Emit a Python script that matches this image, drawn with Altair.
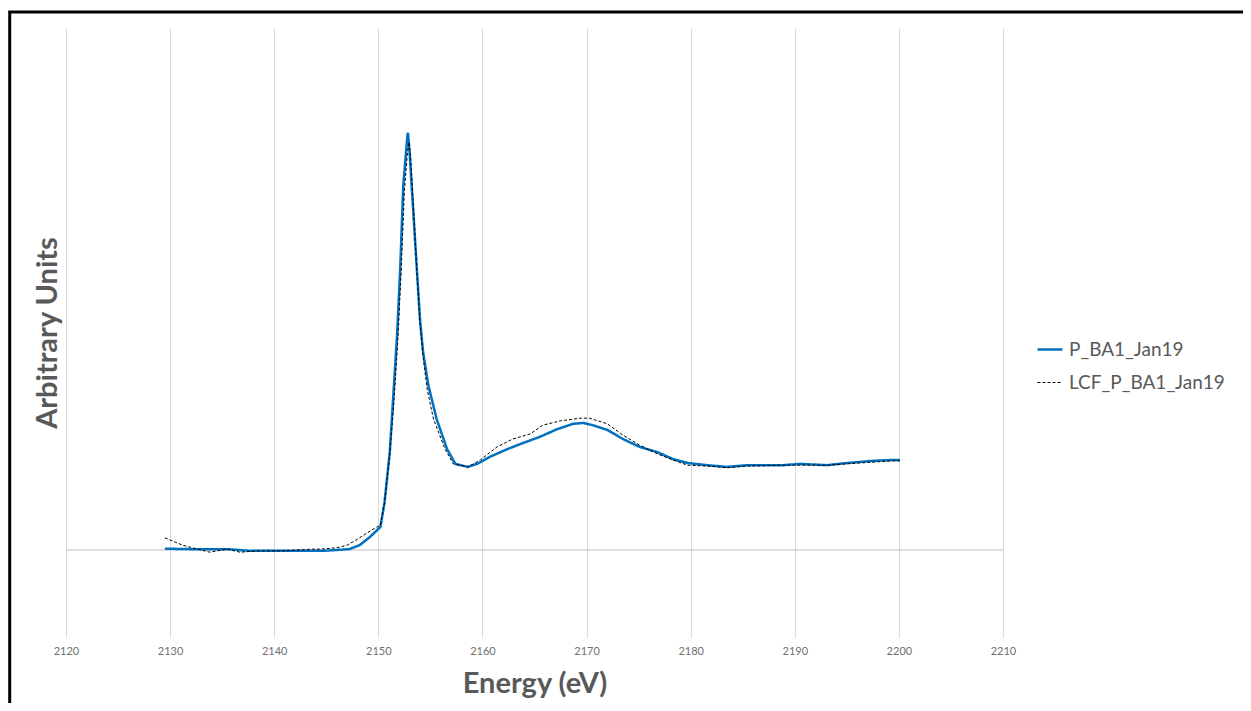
import altair as alt
import pandas as pd

series_names = ["P_BA1_Jan19", "LCF_P_BA1_Jan19"]
x_ticks = [2120, 2130, 2140, 2150, 2160, 2170, 2180, 2190, 2200, 2210]

energy_sample = [2129.5, 2131.9, 2135.5, 2137.7, 2139.9, 2142.5, 2144.7, 2147.2, 2148.2, 2149.2,
                 2150.2, 2150.6, 2151.1, 2151.4, 2151.8, 2152.1, 2152.4, 2152.8, 2152.85, 2153.0,
                 2153.3, 2153.7, 2154.0, 2154.3, 2154.8, 2155.6, 2156.6, 2157.4, 2158.6, 2159.5,
                 2160.7, 2162.4, 2163.9, 2165.5, 2167.2, 2168.7, 2169.7, 2170.6, 2172.0, 2173.5,
                 2175.1, 2176.8, 2178.3, 2179.7, 2181.6, 2183.5, 2185.4, 2188.9, 2190.5, 2193.1,
                 2195.0, 2197.5, 2199.4, 2200.1]
au_sample = [0.003, 0.002, 0.002, -0.002, -0.002, -0.002, -0.002, 0.002, 0.011, 0.030,
             0.053, 0.110, 0.225, 0.340, 0.494, 0.646, 0.839, 0.954, 0.959, 0.915,
             0.800, 0.646, 0.531, 0.455, 0.379, 0.301, 0.232, 0.198, 0.191, 0.198,
             0.214, 0.232, 0.246, 0.260, 0.278, 0.290, 0.292, 0.287, 0.276, 0.255,
             0.237, 0.225, 0.209, 0.200, 0.195, 0.191, 0.195, 0.195, 0.198, 0.195,
             0.200, 0.205, 0.207, 0.207]

energy_lcf = [2129.5, 2130.5, 2131.2, 2133.8, 2135.5, 2136.7, 2138.6, 2140.8, 2143.7, 2144.4,
              2146.0, 2147.0, 2148.0, 2149.5, 2150.2, 2150.6, 2151.1, 2151.5, 2151.9, 2152.2,
              2152.5, 2152.8, 2152.95, 2153.1, 2153.4, 2153.7, 2154.0, 2154.3, 2154.7, 2155.3,
              2156.4, 2157.2, 2158.6, 2159.8, 2161.4, 2162.9, 2164.6, 2165.8, 2167.5, 2169.4,
              2170.3, 2172.0, 2173.5, 2175.1, 2176.8, 2178.3, 2179.7, 2181.6, 2183.5, 2185.4,
              2188.9, 2190.5, 2193.1, 2195.0, 2197.5, 2199.4, 2200.1]
au_lcf = [0.028, 0.018, 0.011, -0.005, 0.002, -0.005, -0.002, -0.002, 0.002, 0.002,
          0.005, 0.011, 0.025, 0.048, 0.057, 0.110, 0.221, 0.340, 0.494, 0.646,
          0.823, 0.915, 0.938, 0.903, 0.777, 0.639, 0.520, 0.444, 0.368, 0.301,
          0.232, 0.198, 0.191, 0.207, 0.237, 0.255, 0.267, 0.287, 0.297, 0.303,
          0.303, 0.290, 0.264, 0.241, 0.221, 0.207, 0.195, 0.193, 0.189, 0.193,
          0.195, 0.195, 0.195, 0.198, 0.202, 0.205, 0.205]

df_sample = pd.DataFrame({"energy": energy_sample, "au": au_sample, "series": series_names[0]})
df_lcf = pd.DataFrame({"energy": energy_lcf, "au": au_lcf, "series": series_names[1]})
df = pd.concat([df_sample, df_lcf], ignore_index=True)

FONT = "Lato"
TXT = "#595959"

x_enc = alt.X("energy:Q",
              scale=alt.Scale(domain=[2120, 2210], nice=False, zero=False),
              axis=alt.Axis(values=x_ticks, title="Energy (eV)", grid=True, gridColor="#d9d9d9",
                            gridWidth=1, domain=False, ticks=False, labelPadding=8,
                            labelFlush=False, labelOverlap=False,
                            labelFont=FONT, labelFontSize=11, labelColor="#6f6f6f", format="d",
                            titleFont=FONT, titleFontSize=29, titleFontWeight="bold",
                            titleColor=TXT, titleBaseline="middle", titleY=46))
y_enc = alt.Y("au:Q",
              scale=alt.Scale(domain=[-0.2, 1.2], nice=False, zero=False),
              axis=alt.Axis(labels=False, ticks=False, domain=False, grid=False,
                            title="Arbitrary Units", titleFont=FONT, titleFontSize=29,
                            titleFontWeight="bold", titleColor=TXT, titleBaseline="middle",
                            titleX=-19, titleY=304.5, titleAngle=-90))

color_enc = alt.Color("series:N", scale=alt.Scale(domain=series_names, range=["#0070c0", "#000000"]),
                      title=None)
dash_enc = alt.StrokeDash("series:N", scale=alt.Scale(domain=series_names, range=[[1, 0], [3, 2]]),
                          title=None)
width_enc = alt.StrokeWidth("series:N", scale=alt.Scale(domain=series_names, range=[2.5, 1]),
                            title=None)

zero_df = pd.DataFrame({"au": [0.0]})
zero_rule = alt.Chart(zero_df).mark_rule(color="#bfbfbf", strokeWidth=1).encode(y=y_enc)

blue = alt.Chart(df).transform_filter(alt.datum.series == series_names[0]).mark_line().encode(
    x=x_enc, y=y_enc, color=color_enc, strokeDash=dash_enc, strokeWidth=width_enc)
lcf = alt.Chart(df).transform_filter(alt.datum.series == series_names[1]).mark_line().encode(
    x=x_enc, y=y_enc, color=color_enc, strokeDash=dash_enc, strokeWidth=width_enc)

frame = alt.Chart(pd.DataFrame({"k": [0]})).mark_rect(filled=False, stroke="black", strokeWidth=3, clip=False).encode(
    x=alt.value(-56.3), x2=alt.value(1300), y=alt.value(-16), y2=alt.value(800))

chart = alt.layer(zero_rule, blue, lcf, frame).properties(
    width=937, height=609,
    autosize=alt.AutoSizeParams(type="none"),
    padding={"left": 58, "top": 20, "right": 240, "bottom": 66},
).configure_view(stroke=None).configure_legend(
    orient="none", legendX=970, legendY=307.5, symbolType="stroke", symbolSize=625,
    labelFont=FONT, labelFontSize=19, labelColor=TXT, rowPadding=10, padding=0,
    labelOffset=5, title=None,
)

chart.save("out.html", embed_options={"renderer": "svg", "actions": False})
